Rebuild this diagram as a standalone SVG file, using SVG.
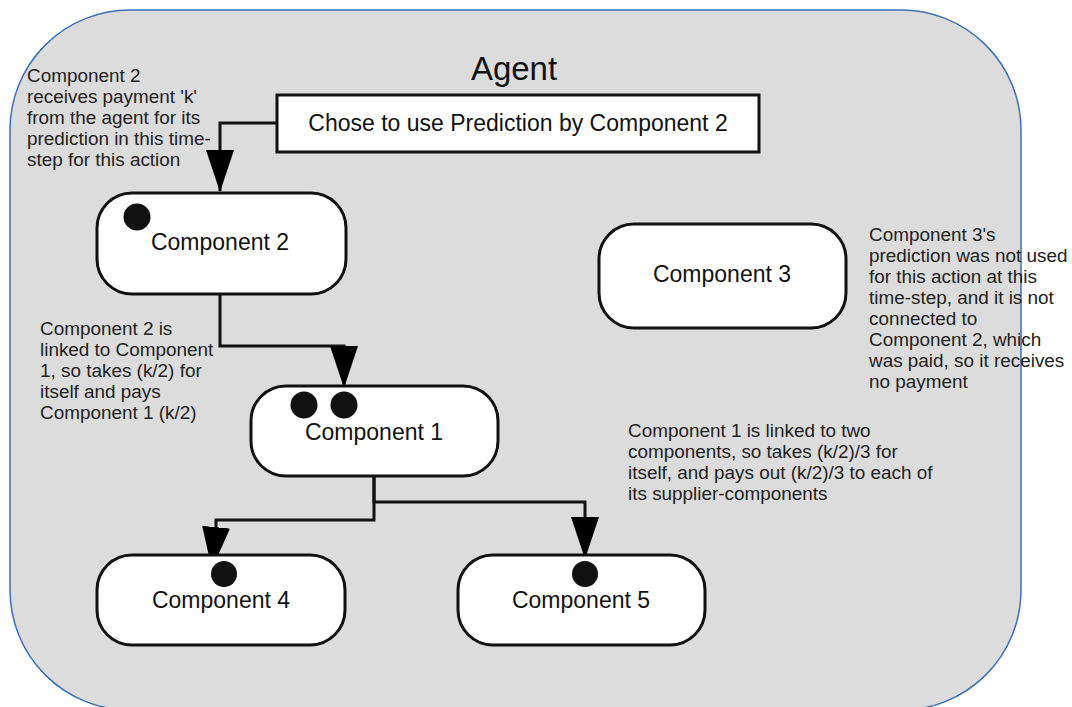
<svg xmlns="http://www.w3.org/2000/svg" width="1072" height="707" viewBox="0 0 1072 707">
<style>
.box{fill:#ffffff;stroke:#111111;stroke-width:3}
.lbl{font-family:"Liberation Sans",Arial,sans-serif;font-size:23px;fill:#111111;text-anchor:middle}
.note{font-family:"Liberation Sans",Arial,sans-serif;font-size:18.9px;fill:#222222}
.dot{fill:#111111}
.conn{fill:none;stroke:#111111;stroke-width:3}
</style>
<defs>
<marker id="ah" markerUnits="userSpaceOnUse" markerWidth="44" markerHeight="30" refX="41" refY="14" orient="auto" viewBox="0 0 44 30">
<path d="M0,0 L42,14 L0,28 z" fill="#000000"/>
</marker>
</defs>
<g id="agent">
<rect x="10" y="10" width="1011" height="700" rx="120" ry="120" fill="#dcdcdc" stroke="#3f6fb5" stroke-width="1.5"/>
<text x="514" y="80" font-family="Liberation Sans, Arial, sans-serif" font-size="33" fill="#111111" text-anchor="middle">Agent</text>
</g>
<g id="connectors">
<path class="conn" d="M277,123 H220 V191" marker-end="url(#ah)"/>
<path class="conn" d="M220,294 V346 H344 V387" marker-end="url(#ah)"/>
<path class="conn" d="M374,476 V502 H585 V558" marker-end="url(#ah)"/>
<path class="conn" d="M374,476 V520 H216 V528 L212,568" marker-end="url(#ah)"/>
</g>
<g id="choice">
<rect class="box" x="277" y="95" width="482" height="57"/>
<text class="lbl" x="518" y="131">Chose to use Prediction by Component 2</text>
</g>
<g id="component2">
<rect class="box" x="97" y="193" width="249" height="101" rx="35" ry="35"/>
<circle class="dot" cx="137" cy="217" r="13.5"/>
<text class="lbl" x="220" y="250">Component 2</text>
</g>
<g id="component3">
<rect class="box" x="599" y="224" width="247" height="104" rx="35" ry="35"/>
<text class="lbl" x="722" y="282">Component 3</text>
</g>
<g id="component1">
<rect class="box" x="251" y="386" width="247" height="90" rx="35" ry="35"/>
<circle class="dot" cx="304" cy="405" r="13.5"/>
<circle class="dot" cx="344" cy="405" r="13.5"/>
<text class="lbl" x="374" y="440">Component 1</text>
</g>
<g id="component4">
<rect class="box" x="97" y="555" width="248" height="90" rx="35" ry="35"/>
<circle class="dot" cx="224" cy="574" r="13"/>
<text class="lbl" x="221" y="608">Component 4</text>
</g>
<g id="component5">
<rect class="box" x="458" y="555" width="247" height="90" rx="35" ry="35"/>
<circle class="dot" cx="585" cy="574" r="13"/>
<text class="lbl" x="581" y="608">Component 5</text>
</g>
<g id="note-payment">
<text class="note" x="27" y="82">Component 2</text>
<text class="note" x="27" y="103">receives payment 'k'</text>
<text class="note" x="27" y="124">from the agent for its</text>
<text class="note" x="27" y="145">prediction in this time-</text>
<text class="note" x="27" y="166">step for this action</text>
</g>
<g id="note-component2">
<text class="note" x="40" y="335">Component 2 is</text>
<text class="note" x="40" y="356">linked to Component</text>
<text class="note" x="40" y="377">1, so takes (k/2) for</text>
<text class="note" x="40" y="398">itself and pays</text>
<text class="note" x="40" y="419">Component 1 (k/2)</text>
</g>
<g id="note-component3">
<text class="note" x="869" y="241">Component 3's</text>
<text class="note" x="869" y="262">prediction was not used</text>
<text class="note" x="869" y="283">for this action at this</text>
<text class="note" x="869" y="304">time-step, and it is not</text>
<text class="note" x="869" y="325">connected to</text>
<text class="note" x="869" y="346">Component 2, which</text>
<text class="note" x="869" y="367">was paid, so it receives</text>
<text class="note" x="869" y="388">no payment</text>
</g>
<g id="note-component1">
<text class="note" x="628" y="437">Component 1 is linked to two</text>
<text class="note" x="628" y="458">components, so takes (k/2)/3 for</text>
<text class="note" x="628" y="479">itself, and pays out (k/2)/3 to each of</text>
<text class="note" x="628" y="500">its supplier-components</text>
</g>
</svg>
